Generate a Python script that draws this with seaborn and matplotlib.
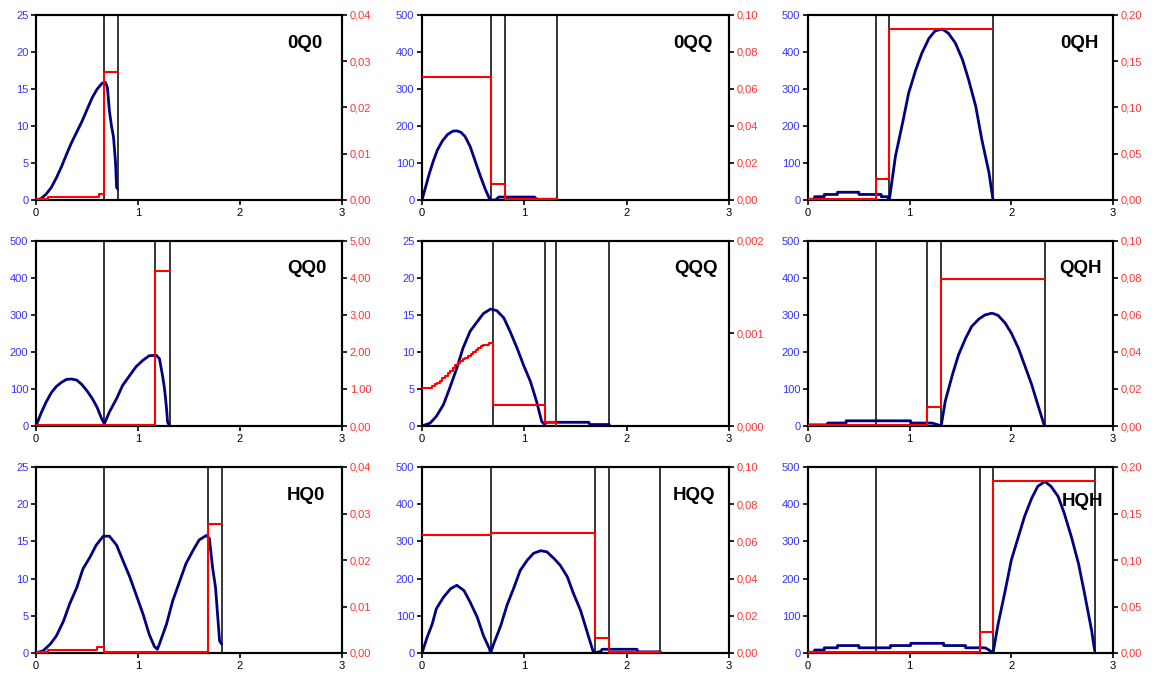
import numpy as np
import pandas as pd
import matplotlib
matplotlib.use("Agg")
import matplotlib.pyplot as plt
import seaborn as sns

sns.set_theme(style="white")
plt.rcParams['font.family'] = ['Liberation Sans', 'DejaVu Sans']

# ---------------- DATA ----------------
panel_names = ["0Q0", "0QQ", "0QH", "QQ0", "QQQ", "QQH", "HQ0", "HQQ", "HQH"]

# 0Q0
b_0Q0_x = [0, 0.05, 0.1, 0.15, 0.2, 0.25, 0.3, 0.35, 0.4, 0.45, 0.5, 0.55, 0.6, 0.65, 0.68, 0.70, 0.72, 0.74, 0.76, 0.78, 0.79, 0.80]
b_0Q0_y = [0, 0.2, 0.8, 1.7, 3.0, 4.5, 6.2, 7.8, 9.2, 10.6, 12.2, 13.8, 15.0, 15.8, 15.9, 15.2, 12.0, 10.0, 8.5, 5.0, 1.7, 1.5]
r_0Q0_x = [0, 0.12, 0.62, 0.67, 0.80]
r_0Q0_y = [0.0003, 0.0007, 0.0012, 0.0277, 0.0277]
v_0Q0 = [0.67, 0.80]

# 0QQ
b_0QQ_x = [0, 0.03, 0.07, 0.11, 0.15, 0.2, 0.25, 0.3, 0.34, 0.38, 0.42, 0.47, 0.52, 0.57, 0.62, 0.66, 0.68, 0.72, 0.75, 1.1, 1.12, 1.32]
b_0QQ_y = [0, 30, 70, 105, 135, 160, 177, 186, 187, 183, 172, 145, 105, 65, 28, 3, 0, 0, 8, 8, 2, 2]
r_0QQ_x = [0, 0.67, 0.81, 1.32]
r_0QQ_y = [0.0665, 0.0085, 0.0007, 0.0007]
v_0QQ = [0.67, 0.81, 1.32]

# 0QH
b_0QH_x = [0, 0.065, 0.065, 0.16, 0.16, 0.29, 0.29, 0.5, 0.5, 0.72, 0.72, 0.78, 0.8,
           0.86, 0.93, 0.99, 1.06, 1.12, 1.19, 1.25, 1.32, 1.38, 1.45, 1.52, 1.58, 1.65, 1.71, 1.78, 1.82]
b_0QH_y = [2, 2, 9, 9, 15, 15, 21, 21, 15, 15, 9, 9, 0,
           118, 208, 289, 352, 397, 437, 457, 462, 451, 424, 379, 325, 253, 163, 74, 0]
r_0QH_x = [0, 0.67, 0.80, 1.82]
r_0QH_y = [0.0015, 0.023, 0.185, 0.185]
v_0QH = [0.67, 0.80, 1.82]

# QQ0
b_QQ0_x = [0, 0.05, 0.1, 0.15, 0.2, 0.25, 0.3, 0.35, 0.4, 0.45, 0.5, 0.55, 0.6, 0.64, 0.67, 0.72, 0.79, 0.85,
           0.92, 0.98, 1.05, 1.11, 1.18, 1.21, 1.24, 1.26, 1.28, 1.29, 1.31]
b_QQ0_y = [0, 35, 65, 90, 107, 118, 126, 127, 124, 112, 95, 75, 50, 22, 6, 38, 74, 110,
           137, 160, 178, 190, 191, 182, 137, 101, 47, 11, 0]
r_QQ0_x = [0, 1.17, 1.31]
r_QQ0_y = [0.04, 4.2, 4.2]
v_QQ0 = [0.67, 1.17, 1.31]

# QQQ
b_QQQ_x = [0, 0.08, 0.14, 0.21, 0.27, 0.34, 0.4, 0.47, 0.54, 0.6, 0.67, 0.73, 0.8, 0.86, 0.93, 0.99, 1.06, 1.12,
           1.17, 1.2, 1.21, 1.63, 1.64, 1.83]
b_QQQ_y = [0, 0.4, 1.3, 2.9, 5.1, 7.8, 10.5, 12.8, 14.1, 15.2, 15.8, 15.6, 14.6, 12.8, 10.5, 8.3, 6.0, 3.3,
           0.6, 0.2, 0.5, 0.5, 0.2, 0.2]
r_QQQ_x = [0, 0.1, 0.125, 0.15, 0.175, 0.2, 0.225, 0.25, 0.275, 0.3, 0.325, 0.35, 0.375, 0.4, 0.425,
           0.45, 0.475, 0.5, 0.525, 0.55, 0.575, 0.6, 0.65, 0.69, 1.2, 1.31]
r_QQQ_y = [0.00041, 0.00043, 0.00045, 0.00047, 0.00049, 0.00052, 0.00054, 0.00057, 0.0006, 0.00063,
           0.00066, 0.00068, 0.0007, 0.00072, 0.00074, 0.00076, 0.00078, 0.0008, 0.00082, 0.00084,
           0.00086, 0.00088, 0.0009, 0.00023, 0.00004, 0.0]
v_QQQ = [0.69, 1.20, 1.31, 1.83]

# QQH
b_QQH_x = [0, 0.195, 0.195, 0.375, 0.375, 1.01, 1.01, 1.22, 1.28, 1.31,
           1.35, 1.42, 1.48, 1.55, 1.61, 1.68, 1.74, 1.81, 1.87, 1.94, 2.0, 2.07, 2.13, 2.2, 2.26, 2.32, 2.33]
b_QQH_y = [3, 3, 8, 8, 14, 14, 8, 8, 3, 0,
           67, 138, 192, 237, 269, 289, 300, 305, 299, 278, 251, 210, 165, 112, 58, 5, 0]
r_QQH_x = [0, 1.17, 1.31, 2.33]
r_QQH_y = [0.0008, 0.0105, 0.0795, 0.0795]
v_QQH = [0.67, 1.17, 1.31, 2.33]

# HQ0
b_HQ0_x = [0, 0.07, 0.14, 0.2, 0.27, 0.33, 0.4, 0.46, 0.53, 0.59, 0.66, 0.72, 0.79, 0.85, 0.92, 0.98, 1.05,
           1.11, 1.16, 1.19, 1.21, 1.28, 1.34, 1.41, 1.47, 1.54, 1.6, 1.67, 1.7, 1.73, 1.76, 1.78, 1.8, 1.82]
b_HQ0_y = [0, 0.3, 1.2, 2.3, 4.3, 6.6, 8.8, 11.3, 12.9, 14.5, 15.7, 15.7, 14.5, 12.5, 10.2, 7.9, 5.2,
           2.5, 0.9, 0.5, 1.2, 3.9, 7.0, 9.7, 12.0, 13.8, 15.2, 15.8, 15.4, 11.6, 8.8, 5.2, 1.6, 1.2]
r_HQ0_x = [0, 0.12, 0.6, 0.67, 1.69, 1.82]
r_HQ0_y = [0.0003, 0.0007, 0.0012, 0.0002, 0.0278, 0.0278]
v_HQ0 = [0.67, 1.69, 1.82]

# HQQ
b_HQQ_x = [0, 0.05, 0.1, 0.14, 0.21, 0.28, 0.34, 0.41, 0.47, 0.54, 0.6, 0.66, 0.67,
           0.7, 0.77, 0.83, 0.9, 0.96, 1.03, 1.09, 1.16, 1.22, 1.29, 1.35, 1.42, 1.48, 1.55, 1.61, 1.67, 1.69,
           1.75, 1.76, 2.1, 2.11, 2.33]
b_HQQ_y = [0, 42, 78, 119, 150, 173, 182, 168, 137, 96, 47, 11, 0,
           24, 74, 128, 177, 222, 250, 268, 275, 272, 254, 236, 205, 160, 114, 60, 6, 0,
           5, 10, 10, 3, 3]
r_HQQ_x = [0, 0.67, 1.69, 1.83, 2.33]
r_HQQ_y = [0.0632, 0.0645, 0.0083, 0.0007, 0.0007]
v_HQQ = [0.67, 1.69, 1.83, 2.33]

# HQH
b_HQH_x = [0, 0.065, 0.065, 0.16, 0.16, 0.29, 0.29, 0.5, 0.5, 0.81, 0.81, 1.01, 1.01, 1.335, 1.335, 1.55, 1.55,
           1.74, 1.77, 1.82,
           1.87, 1.94, 2.0, 2.07, 2.13, 2.2, 2.26, 2.33, 2.39, 2.46, 2.52, 2.59, 2.66, 2.72, 2.79, 2.82]
b_HQH_y = [2, 2, 8, 8, 14, 14, 20, 20, 14, 14, 20, 20, 26, 26, 20, 20, 14,
           14, 10, 0,
           78, 168, 250, 313, 367, 416, 448, 461, 448, 421, 376, 313, 241, 160, 60, 6]
r_HQH_x = [0, 1.69, 1.82, 2.82]
r_HQH_y = [0.0012, 0.0223, 0.1845, 0.1845]
v_HQH = [0.67, 1.69, 1.82, 2.82]

# axis ticks
x_ticks = [0, 1, 2, 3]
x_ticklabels = ["0", "1", "2", "3"]
left_ticks_small = [0, 5, 10, 15, 20, 25]
left_ticks_large = [0, 100, 200, 300, 400, 500]
right_ticks_004 = [0, 0.01, 0.02, 0.03, 0.04]
right_labels_004 = ["0,00", "0,01", "0,02", "0,03", "0,04"]
right_ticks_010 = [0, 0.02, 0.04, 0.06, 0.08, 0.10]
right_labels_010 = ["0,00", "0,02", "0,04", "0,06", "0,08", "0,10"]
right_ticks_020 = [0, 0.05, 0.10, 0.15, 0.20]
right_labels_020 = ["0,00", "0,05", "0,10", "0,15", "0,20"]
right_ticks_5 = [0, 1, 2, 3, 4, 5]
right_labels_5 = ["0,00", "1,00", "2,00", "3,00", "4,00", "5,00"]
right_ticks_0002 = [0, 0.001, 0.002]
right_labels_0002 = ["0,000", "0,001", "0,002"]

panels = [
    ("0Q0", b_0Q0_x, b_0Q0_y, r_0Q0_x, r_0Q0_y, v_0Q0, left_ticks_small, right_ticks_004, right_labels_004),
    ("0QQ", b_0QQ_x, b_0QQ_y, r_0QQ_x, r_0QQ_y, v_0QQ, left_ticks_large, right_ticks_010, right_labels_010),
    ("0QH", b_0QH_x, b_0QH_y, r_0QH_x, r_0QH_y, v_0QH, left_ticks_large, right_ticks_020, right_labels_020),
    ("QQ0", b_QQ0_x, b_QQ0_y, r_QQ0_x, r_QQ0_y, v_QQ0, left_ticks_large, right_ticks_5, right_labels_5),
    ("QQQ", b_QQQ_x, b_QQQ_y, r_QQQ_x, r_QQQ_y, v_QQQ, left_ticks_small, right_ticks_0002, right_labels_0002),
    ("QQH", b_QQH_x, b_QQH_y, r_QQH_x, r_QQH_y, v_QQH, left_ticks_large, right_ticks_010, right_labels_010),
    ("HQ0", b_HQ0_x, b_HQ0_y, r_HQ0_x, r_HQ0_y, v_HQ0, left_ticks_small, right_ticks_004, right_labels_004),
    ("HQQ", b_HQQ_x, b_HQQ_y, r_HQQ_x, r_HQQ_y, v_HQQ, left_ticks_large, right_ticks_010, right_labels_010),
    ("HQH", b_HQH_x, b_HQH_y, r_HQH_x, r_HQH_y, v_HQH, left_ticks_large, right_ticks_020, right_labels_020),
]

# ---------------- LAYOUT ----------------
W, H = 1159, 677
fig = plt.figure(figsize=(W / 100, H / 100), dpi=100)
col_px = [(36, 342), (422, 729), (808, 1113)]
row_px = [(15, 200), (241, 426), (467, 653)]
label_pos = {"0Q0": (0.935, 0.845), "0QQ": (0.947, 0.845), "0QH": (0.952, 0.845),
             "QQ0": (0.95, 0.85), "QQQ": (0.963, 0.85), "QQH": (0.963, 0.85),
             "HQ0": (0.944, 0.845), "HQQ": (0.954, 0.845), "HQH": (0.968, 0.813)}

BLUE_TXT = "#3333FF"
RED_TXT = "#FF3333"
NAVY = "#000080"
RED = "#FF0000"

for i, (name, bx, by, rx, ry, vl, lticks, rticks, rlabels) in enumerate(panels):
    r, c = divmod(i, 3)
    x0, x1 = col_px[c]
    y0, y1 = row_px[r]
    ax = fig.add_axes([x0 / W, 1 - y1 / H, (x1 - x0) / W, (y1 - y0) / H])
    ax2 = ax.twinx()

    for xv in vl:
        ax.axvline(xv, color="black", lw=1.1, zorder=1)

    dfb = pd.DataFrame({"x": bx, "y": by})
    sns.lineplot(data=dfb, x="x", y="y", ax=ax, color=NAVY, lw=2.0,
                 sort=False, estimator=None, zorder=3)
    dfr = pd.DataFrame({"x": rx, "y": ry})
    sns.lineplot(data=dfr, x="x", y="y", ax=ax2, color=RED, lw=1.5,
                 sort=False, estimator=None, drawstyle="steps-post", zorder=4)

    ax.set_xlim(0, 3)
    ax.set_ylim(lticks[0], lticks[-1])
    ax2.set_ylim(rticks[0], rticks[-1])
    ax.set_xticks(x_ticks)
    ax.set_xticklabels(x_ticklabels)
    ax.set_yticks(lticks)
    ax.set_yticklabels([str(t) for t in lticks])
    ax2.set_yticks(rticks)
    ax2.set_yticklabels(rlabels)
    ax.set_xlabel("")
    ax.set_ylabel("")
    ax2.set_ylabel("")

    for a in (ax, ax2):
        for s in a.spines.values():
            s.set_visible(True)
            s.set_color("black")
            s.set_linewidth(1.5)
    ax.tick_params(axis="x", direction="out", length=3.5, width=1.2, colors="black",
                   labelsize=8, pad=2.5, bottom=True)
    ax.tick_params(axis="y", direction="out", length=3.5, width=1.2, color="black",
                   labelcolor=BLUE_TXT, labelsize=8, pad=2, left=True)
    ax2.tick_params(axis="y", direction="out", length=3.5, width=1.2, color="black",
                    labelcolor=RED_TXT, labelsize=8, pad=2, right=True)
    ax.grid(False)
    ax2.grid(False)

    lx, ly = label_pos[name]
    ax2.text(lx, ly, name, transform=ax.transAxes, ha="right", va="center",
             fontsize=13.5, fontweight="bold", color="black", zorder=6)

fig.savefig("out.png", dpi=100)
